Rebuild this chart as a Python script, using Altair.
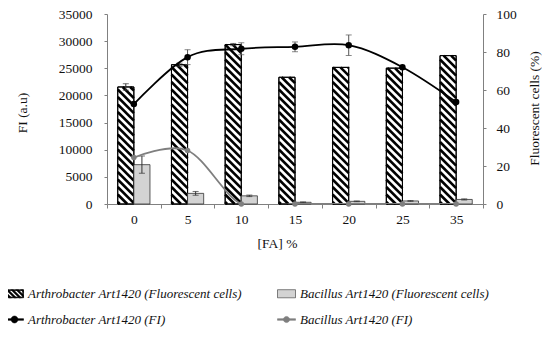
import altair as alt
import pandas as pd

# ---------------- data ----------------
fa_labels = ["0", "5", "10", "15", "20", "25", "35"]

arth_cells = [61.6, 73.3, 83.9, 66.7, 71.9, 71.5, 78.1]      # % fluorescent cells
arth_cells_err = [1.7, 0.8, 0.6, 0.0, 0.0, 0.0, 0.0]
bac_cells = [20.7, 5.6, 4.3, 0.9, 1.4, 1.6, 2.4]
bac_cells_err = [4.5, 1.0, 0.4, 0.2, 0.2, 0.2, 0.3]

arth_fi = [18400, 27050, 28600, 28950, 29250, 25200, 18800]  # FI (a.u)
arth_fi_err = [0, 1370, 1100, 900, 1890, 0, 0]
bac_fi = [8550, 9850, 0, 0, 0, 0, 0]

series_names = [
    "Arthrobacter  Art1420 (Fluorescent cells)",
    "Bacillus Art1420 (Fluorescent cells)",
    "Arthrobacter Art1420 (FI)",
    "Bacillus Art1420 (FI)",
]

# ---------------- layout / style ----------------
N = len(fa_labels)
W, H = 376, 190
XMIN, XMAX = -0.5, N - 0.5
BAR_W = 0.3
PCT_MAX, FI_MAX = 100, 35000
FONT = "Liberation Serif"
PERIOD = 7.5      # vertical hatch period in px
GRAY_LINE = "#7f7f7f"
BAR_GRAY = "#d3d3d3"

idx = list(range(N))

def bar_frame(vals, errs, left):
    x0 = [i - BAR_W if left else i for i in idx]
    return pd.DataFrame({
        "x0": x0,
        "x1": [a + BAR_W for a in x0],
        "xc": [a + BAR_W / 2 for a in x0],
        "v": vals,
        "base": [0] * N,
        "lo": [v - e for v, e in zip(vals, errs)],
        "hi": [v + e for v, e in zip(vals, errs)],
        "err": errs,
    })

bars_a = bar_frame(arth_cells, arth_cells_err, True)
bars_b = bar_frame(bac_cells, bac_cells_err, False)

def hatch(df):
    kx = W / (XMAX - XMIN)
    ky = H / PCT_MAX
    rows = []
    for _, r in df.iterrows():
        X0 = (r.x0 - XMIN) * kx
        X1 = (r.x1 - XMIN) * kx
        T = r.v * ky
        c = X0 + 2.0
        while c < X1 + T:
            xa = max(X0, c - T)
            xb = min(X1, c)
            if xb - xa > 0.5:
                rows.append({"hx": xa / kx + XMIN, "hy": (c - xa) / ky,
                             "hx2": xb / kx + XMIN, "hy2": (c - xb) / ky})
            c += PERIOD
    return pd.DataFrame(rows)

hatch_df = hatch(bars_a)

fi_df = pd.DataFrame({
    "x": idx,
    "a": arth_fi,
    "alo": [v - e for v, e in zip(arth_fi, arth_fi_err)],
    "ahi": [v + e for v, e in zip(arth_fi, arth_fi_err)],
    "aerr": arth_fi_err,
    "b": bac_fi,
})

# ---------------- axes / scales ----------------
xscale = alt.Scale(domain=[XMIN, XMAX], nice=False, zero=False)
lab_arr = "[" + ",".join("'%s'" % s for s in fa_labels) + "]"
x_axis = alt.Axis(
    values=[k / 2 - 0.5 for k in range(2 * N + 1)],
    labelExpr="datum.value % 1 === 0 ? " + lab_arr + "[datum.value] : ''",
    tickOpacity={"condition": {"test": "datum.value % 1 !== 0", "value": 1}, "value": 0},
    labelOverlap=False, labelFlush=False, tickSize=4, labelPadding=4,
    titleX=170, titleY=39, titleBaseline="middle", titleAlign="center",
)

def X(field):
    return alt.X(field, type="quantitative", scale=xscale, axis=x_axis, title="[FA] %")

pct_scale = alt.Scale(domain=[0, PCT_MAX], nice=False, zero=True)
pct_axis = alt.Axis(orient="right", values=list(range(0, 101, 20)), format="d",
                    tickSize=3, labelPadding=10,
                    titleX=51, titleY=94, titleAngle=270,
                    titleBaseline="middle", titleAlign="center")

def YP(field):
    return alt.Y(field, type="quantitative", scale=pct_scale, axis=pct_axis,
                 title="Fluorescent cells (%)")

fi_scale = alt.Scale(domain=[0, FI_MAX], nice=False, zero=True)
fi_axis = alt.Axis(orient="left", values=list(range(0, FI_MAX + 1, 5000)), format="d",
                   tickSize=3, labelPadding=12,
                   titleX=-85, titleY=98.5, titleAngle=270,
                   titleBaseline="middle", titleAlign="center")

def YF(field):
    return alt.Y(field, type="quantitative", scale=fi_scale, axis=fi_axis, title="FI (a.u)")

# ---------------- percent layer (bars) ----------------
bar_a_fill = alt.Chart(bars_a).mark_rect(fill="white", stroke="black", strokeWidth=1).encode(
    x=X("x0"), x2="x1", y=YP("v"), y2="base")
hatch_rules = alt.Chart(hatch_df).mark_rule(color="black", strokeWidth=2.6, strokeCap="butt").encode(
    x=X("hx"), x2="hx2", y=YP("hy"), y2="hy2")
bar_a_outline = alt.Chart(bars_a).mark_rect(fillOpacity=0, stroke="black", strokeWidth=1).encode(
    x=X("x0"), x2="x1", y=YP("v"), y2="base")
bar_b = alt.Chart(bars_b).mark_rect(fill=BAR_GRAY, stroke="#333333", strokeWidth=0.8).encode(
    x=X("x0"), x2="x1", y=YP("v"), y2="base")

def err_layers(df, color):
    d = df[df["err"] > 0]
    rule = alt.Chart(d).mark_rule(color=color, strokeWidth=1).encode(
        x=X("xc"), y=YP("lo"), y2="hi")
    cap1 = alt.Chart(d).mark_tick(color=color, orient="horizontal", size=6, thickness=1).encode(
        x=X("xc"), y=YP("lo"))
    cap2 = alt.Chart(d).mark_tick(color=color, orient="horizontal", size=6, thickness=1).encode(
        x=X("xc"), y=YP("hi"))
    return [rule, cap1, cap2]

pct_layer = alt.layer(bar_a_fill, hatch_rules, bar_a_outline, bar_b,
                      *err_layers(bars_a, "#333333"), *err_layers(bars_b, "#333333"))

# ---------------- FI layer (lines) ----------------
fi_err = fi_df[fi_df["aerr"] > 0]
fi_layer = alt.layer(
    alt.Chart(fi_df).mark_line(interpolate="cardinal", clip=True, color=GRAY_LINE, strokeWidth=1.8).encode(
        x=X("x"), y=YF("b")),
    alt.Chart(fi_df).mark_point(filled=True, color=GRAY_LINE, size=30, opacity=1).encode(
        x=X("x"), y=YF("b")),
    alt.Chart(fi_err).mark_rule(color="#555555", strokeWidth=1).encode(
        x=X("x"), y=YF("alo"), y2="ahi"),
    alt.Chart(fi_err).mark_tick(color="#555555", orient="horizontal", size=6, thickness=1).encode(
        x=X("x"), y=YF("alo")),
    alt.Chart(fi_err).mark_tick(color="#555555", orient="horizontal", size=6, thickness=1).encode(
        x=X("x"), y=YF("ahi")),
    alt.Chart(fi_df).mark_line(interpolate="cardinal", clip=True, color="black", strokeWidth=1.8).encode(
        x=X("x"), y=YF("a")),
    alt.Chart(fi_df).mark_point(filled=True, color="black", size=42, opacity=1).encode(
        x=X("x"), y=YF("a")),
)

# ---------------- legend ----------------
def fmt(p):
    return "%.3f,%.3f" % p

def clip_x(poly, lo, hi):
    def clip(pts, inside, inter):
        out = []
        for k in range(len(pts)):
            cur, prev = pts[k], pts[k - 1]
            if inside(cur):
                if not inside(prev):
                    out.append(inter(prev, cur))
                out.append(cur)
            elif inside(prev):
                out.append(inter(prev, cur))
        return out
    def ix(xv):
        return lambda a, b: (xv, a[1] + (b[1] - a[1]) * (xv - a[0]) / (b[0] - a[0]))
    pts = clip(poly, lambda p: p[0] >= lo, ix(lo))
    if pts:
        pts = clip(pts, lambda p: p[0] <= hi, ix(hi))
    return pts

hy_ = 0.45
fr = 0.09
hatch_path = "M-1,-%.2fH1V%.2fH-1Z" % (hy_, hy_)
hatch_path += "M%.2f,%.2fV%.2fH%.2fV%.2fZ" % (-1 + fr, -hy_ + fr, hy_ - fr, 1 - fr, -hy_ + fr)
c = -1.6
while c < 1.6:
    poly = [(c - hy_, -hy_), (c - hy_ + 0.27, -hy_), (c + hy_ + 0.27, hy_), (c + hy_, hy_)]
    pts = clip_x(poly, -1, 1)
    if len(pts) >= 3:
        hatch_path += "M" + "L".join(fmt(p) for p in pts) + "Z"
    c += 0.55

rect_path = "M-1,-%.2fH1V%.2fH-1Z" % (hy_, hy_)
def line_dot(r):
    return ("M-1,-0.09H1V0.09H-1Z"
            "M%.2f,0A%.2f,%.2f 0 1,1 -%.2f,0A%.2f,%.2f 0 1,1 %.2f,0Z" % (r, r, r, r, r, r, r))

leg_shapes = [hatch_path, rect_path, line_dot(0.38), line_dot(0.34)]
leg_fill = ["black", BAR_GRAY, "black", GRAY_LINE]
leg_stroke = ["black", "#333333", "black", GRAY_LINE]

leg = alt.Legend(
    orient="none", legendX=-102, legendY=270, columns=2, direction="horizontal", title=None,
    labelFont=FONT, labelFontStyle="italic", labelFontSize=13, labelColor="#111111",
    symbolSize=324, symbolStrokeWidth=0.6, symbolOpacity=1, labelOffset=4,
    rowPadding=9, columnPadding=30, labelLimit=400, padding=0,
)
leg_df = pd.DataFrame({"series": series_names})
legend_layer = alt.Chart(leg_df).mark_point(filled=True, opacity=0).encode(
    fill=alt.Fill("series:N", sort=series_names,
                  scale=alt.Scale(domain=series_names, range=leg_fill), legend=leg),
    stroke=alt.Stroke("series:N", sort=series_names,
                      scale=alt.Scale(domain=series_names, range=leg_stroke), legend=leg),
    shape=alt.Shape("series:N", sort=series_names,
                    scale=alt.Scale(domain=series_names, range=leg_shapes), legend=leg),
)

chart = alt.layer(pct_layer, fi_layer, legend_layer).resolve_scale(
    y="independent"
).properties(
    width=W, height=H,
    autosize=alt.AutoSizeParams(type="none"),
    padding={"left": 99, "top": 6, "right": 59, "bottom": 125},
).configure_view(stroke=None).configure_axis(
    labelFont=FONT, titleFont=FONT, labelFontSize=13.5, titleFontSize=13.5,
    titleFontWeight="normal", labelColor="#111111", titleColor="#111111",
    domainColor="#808080", tickColor="#808080", grid=False,
)

chart.save("out.html", embed_options={"renderer": "svg", "actions": False})
